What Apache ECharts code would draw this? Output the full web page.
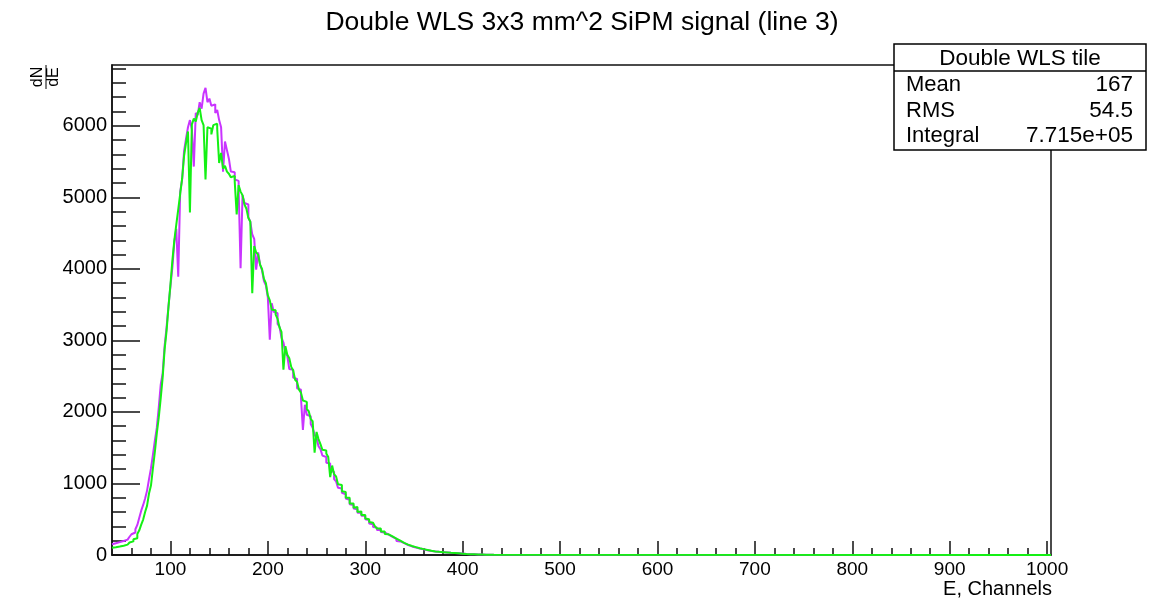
<!DOCTYPE html>
<html>
<head>
<meta charset="utf-8">
<script src="https://cdn.jsdelivr.net/npm/echarts@6/dist/echarts.min.js"></script>
<style>
html,body{margin:0;padding:0;background:#fff;}
#chart{width:1154px;height:604px;}
</style>
</head>
<body>
<div id="chart"></div>
<script>
// Histogram bins: lower edges (channels), bin width 2
const binStart = 40;
const binWidth = 2;
// Series 1 (magenta)
const magentaValues = [
150,165,160,180,175,195,200,215,230,255,
290,315,360,420,520,620,700,790,900,1060,
1210,1400,1600,1780,2060,2380,2540,2920,3180,3480,
3760,4020,4380,4560,3890,5080,5250,5650,5820,5980,
6080,5950,5430,6180,6150,6330,6240,6450,6530,6330,
6380,6280,6300,6180,6220,6080,5980,5360,5780,5660,
5540,5360,5350,5250,5230,5120,4010,5030,4920,4900,
4720,4660,4480,4420,3990,4230,4060,3980,3830,3770,
3600,3010,3520,3400,3380,3230,3190,3040,2970,2830,
2780,2600,2590,2480,2460,2330,2310,2200,1750,2100,
1960,1940,1830,1780,1680,1640,1520,1480,1390,1370,
1290,1280,1180,1160,1060,1030,940,930,870,850,
790,770,710,700,650,640,590,590,550,550,
500,490,440,430,390,385,350,350,320,315,
290,285,260,255,230,225,195,190,170,165,
150,140,130,120,112,105,100,92,85,80,
72,65,60,56,52,50,46,44,42,40,
37,35,32,30,28,27,26,25,22,20,
17,15,13,12,11,10,9,8,7,6,
5,4,3,3,2,2
];
// Series 2 (green)
const greenValues = [
100,108,105,118,115,130,125,145,145,175,
190,220,235,295,345,425,495,600,690,860,
970,1210,1440,1700,1920,2190,2480,2870,3130,3470,
3780,4120,4400,4620,4830,5050,5260,5580,5760,5920,
4790,6020,6100,6060,6180,6250,6080,6010,5250,5980,
5960,5880,6010,6030,5960,5480,5620,5400,5440,5360,
5330,5280,5300,5220,4760,5170,5080,5030,4900,4840,
4710,4660,3660,4320,4230,4200,4060,4000,3860,3800,
3630,3560,3430,3420,3360,3300,3180,3120,2590,2920,
2800,2750,2630,2580,2450,2420,2310,2270,2160,2140,
2040,2010,1900,1870,1430,1720,1620,1550,1470,1460,
1420,1370,1090,1250,1130,1100,990,980,890,880,
800,800,720,720,660,670,600,610,560,560,
510,500,460,450,430,400,370,370,330,330,
295,290,265,260,235,230,205,200,175,170,
155,145,135,125,117,110,102,95,88,82,
76,70,64,58,54,50,47,44,42,40,
38,36,33,31,29,27,25,23,21,19,
17,15,13,12,11,10,9,8,7,6,
5,4,3,3,2,2
];
// Empty tail of the histogram (channel, value)
const tailChannels = [432, 1004];
const tailValues = [0, 0];

const xMajorTicks = [100,200,300,400,500,600,700,800,900,1000];
const xMinorTicks = [60,80,120,140,160,180,220,240,260,280,320,340,360,380,420,440,460,480,520,540,560,580,620,640,660,680,720,740,760,780,820,840,860,880,920,940,960,980];
const yMajorTicks = [0,1000,2000,3000,4000,5000,6000];
const yMinorTicks = [200,400,600,800,1200,1400,1600,1800,2200,2400,2600,2800,3200,3400,3600,3800,4200,4400,4600,4800,5200,5400,5600,5800,6200,6400,6600,6800];

const titleText = 'Double WLS 3x3 mm^2 SiPM signal (line 3)';
const xAxisTitle = 'E, Channels';
const statsTitle = 'Double WLS tile';
const statsNames = ['Mean', 'RMS', 'Integral'];
const statsValues = ['167', '54.5', '7.715e+05'];

function toPairs(vals) {
  const out = vals.map((v, i) => [binStart + i * binWidth, v]);
  tailChannels.forEach((c, i) => out.push([c, tailValues[i]]));
  return out;
}

const FONT = 'Liberation Sans';
const AX = '#111';

const chart = echarts.init(document.getElementById('chart'), null, {renderer: 'canvas'});

const statsGraphics = [
  {type: 'rect', shape: {x: 894, y: 44, width: 252, height: 106}, style: {fill: '#fff', stroke: '#000', lineWidth: 1.5}, z: 100},
  {type: 'line', shape: {x1: 894, y1: 71, x2: 1146, y2: 71}, style: {stroke: '#000', lineWidth: 1.5}, z: 101},
  {type: 'text', x: 1020, y: 59, style: {text: statsTitle, font: '22.5px "' + FONT + '"', fill: '#000', align: 'center', verticalAlign: 'middle'}, z: 101}
];
statsNames.forEach((n, i) => {
  const y = 85 + i * 25.5;
  statsGraphics.push({type: 'text', x: 906, y: y, style: {text: n, font: '22px "' + FONT + '"', fill: '#000', align: 'left', verticalAlign: 'middle'}, z: 101});
  statsGraphics.push({type: 'text', x: 1133, y: y, style: {text: statsValues[i], font: '22.5px "' + FONT + '"', fill: '#000', align: 'right', verticalAlign: 'middle'}, z: 101});
});

const plain = v => String(v);

const option = {
  animation: false,
  backgroundColor: '#fff',
  grid: {left: 112, right: 103, top: 65, bottom: 49, show: true, borderColor: AX, borderWidth: 1.5, backgroundColor: 'transparent'},
  xAxis: [
    {
      type: 'value', min: 40, max: 1004, position: 'bottom',
      axisLine: {show: true, onZero: false, lineStyle: {color: AX, width: 1.5}},
      axisTick: {show: true, inside: true, length: 14, customValues: xMajorTicks, lineStyle: {color: AX, width: 1.5}},
      axisLabel: {customValues: xMajorTicks, formatter: plain, fontFamily: FONT, fontSize: 19, color: '#000', margin: 5},
      splitLine: {show: false}
    },
    {
      type: 'value', min: 40, max: 1004, position: 'bottom',
      axisLine: {show: false},
      axisTick: {show: true, inside: true, length: 7, customValues: xMinorTicks, lineStyle: {color: AX, width: 1.5}},
      axisLabel: {show: false},
      splitLine: {show: false}
    }
  ],
  yAxis: [
    {
      type: 'value', min: 0, max: 6850, position: 'left',
      axisLine: {show: true, onZero: false, lineStyle: {color: AX, width: 1.5}},
      axisTick: {show: true, inside: true, length: 28, customValues: yMajorTicks, lineStyle: {color: AX, width: 1.5}},
      axisLabel: {customValues: yMajorTicks, formatter: plain, fontFamily: FONT, fontSize: 20, color: '#000', margin: 5},
      splitLine: {show: false}
    },
    {
      type: 'value', min: 0, max: 6850, position: 'left',
      axisLine: {show: false},
      axisTick: {show: true, inside: true, length: 14, customValues: yMinorTicks, lineStyle: {color: AX, width: 1.5}},
      axisLabel: {show: false},
      splitLine: {show: false}
    }
  ],
  series: [
    {
      type: 'line', step: 'end', xAxisIndex: 0, yAxisIndex: 0,
      data: toPairs(magentaValues), symbol: 'none',
      lineStyle: {color: '#c934ff', width: 2}, z: 3
    },
    {
      type: 'line', step: 'end', xAxisIndex: 0, yAxisIndex: 0,
      data: toPairs(greenValues), symbol: 'none',
      lineStyle: {color: '#14f014', width: 2}, z: 4
    }
  ],
  graphic: [
    {
      type: 'text', x: 582, y: 23,
      style: {text: titleText, font: '26.5px "' + FONT + '"', fill: '#000', align: 'center', verticalAlign: 'middle'}
    },
    {
      type: 'text', x: 1052, y: 589,
      style: {text: xAxisTitle, font: '20px "' + FONT + '"', fill: '#000', align: 'right', verticalAlign: 'middle'}
    },
    {
      type: 'group', x: 46, y: 77, rotation: Math.PI / 2,
      children: [
        {type: 'text', x: 0, y: -8, style: {text: 'dN', font: '16px "' + FONT + '"', fill: '#000', align: 'center', verticalAlign: 'middle'}},
        {type: 'line', shape: {x1: -12, y1: 0, x2: 12, y2: 0}, style: {stroke: '#000', lineWidth: 1}},
        {type: 'text', x: 0, y: 8, style: {text: 'dE', font: '16px "' + FONT + '"', fill: '#000', align: 'center', verticalAlign: 'middle'}}
      ]
    }
  ].concat(statsGraphics)
};
chart.setOption(option);
</script>
</body>
</html>
